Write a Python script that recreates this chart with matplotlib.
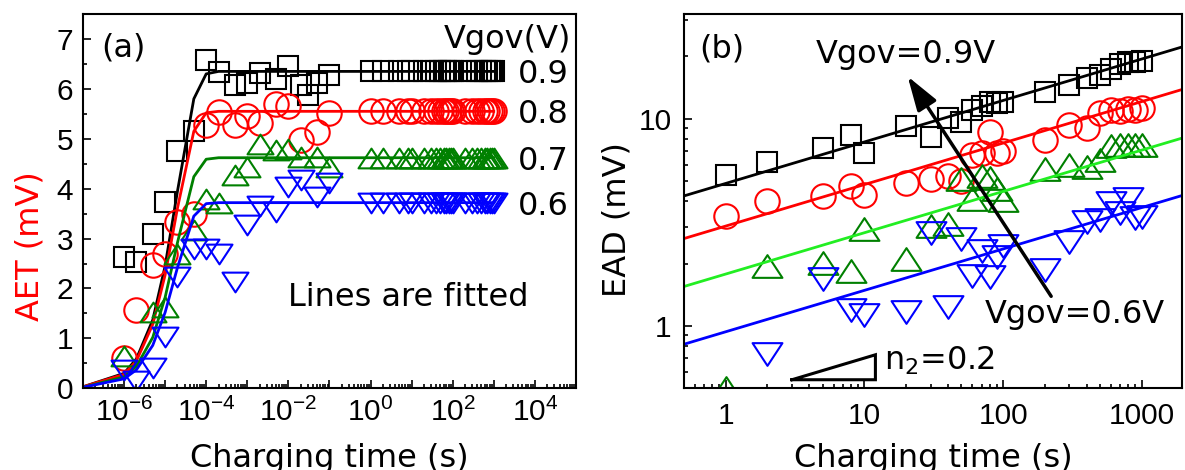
import numpy as np
import matplotlib
matplotlib.use("Agg")
import matplotlib.pyplot as plt
from matplotlib.path import Path
from matplotlib.ticker import (LogLocator, FuncFormatter, MultipleLocator,
                               NullFormatter)

plt.rcParams["font.family"] = ["DejaVu Sans"]
plt.rcParams["axes.linewidth"] = 1.5

nan = np.nan

# ---------------- panel (a): AET vs charging time ----------------
vgov_labels = ["0.9", "0.8", "0.7", "0.6"]

t_a = [1e-6, 2e-6, 5e-6, 1e-5, 2e-5, 5e-5, 1e-4, 2e-4, 5e-4, 1e-3, 2e-3,
       5e-3, 1e-2, 2e-2, 3e-2, 5e-2, 1e-1]
aet_09 = [2.64, 2.54, 3.10, 3.74, 4.75, 5.15, 6.58, 6.34, 6.08, 6.11, 6.32,
          6.20, 6.46, 6.08, 5.88, 6.12, 6.28]
aet_08 = [0.60, 1.57, 2.48, 2.70, 3.34, 3.50, 5.28, 5.54, 5.28, 5.45, 5.31,
          5.70, 5.65, 4.98, nan, 5.14, 5.51]
aet_07 = [0.65, nan, 1.52, 1.62, 2.70, 3.18, 3.80, 3.71, 4.28, 4.44, 4.90,
          4.78, 4.80, 4.64, nan, 4.64, 4.44]
aet_06 = [0.37, 0.15, 0.40, 1.02, 2.24, 2.80, 2.80, 2.70, 2.14, 3.27, 3.65,
          3.54, 4.04, 4.18, nan, 3.84, 4.11]

# long-time points sit on the saturation level of each series
t_sat = [1, 2, 5, 8, 10, 20, 30, 40, 50, 60, 70, 80, 90, 100, 200, 300, 400,
         500, 600, 700, 800, 900, 1000]
aet_sat = [6.35, 5.55, 4.62, 3.72]

# fitted curves
t_fit_a = [1e-7, 1e-6, 2e-6, 5e-6, 1e-5, 2e-5, 5e-5, 1e-4, 2e-4, 1e3]
fit_09 = [0.03, 0.30, 0.59, 1.37, 2.45, 3.95, 5.80, 6.30, 6.35, 6.35]
fit_08 = [0.03, 0.28, 0.55, 1.28, 2.27, 3.61, 5.15, 5.52, 5.55, 5.55]
fit_07 = [0.02, 0.23, 0.44, 1.02, 1.82, 2.92, 4.24, 4.59, 4.62, 4.62]
fit_06 = [0.02, 0.19, 0.37, 0.86, 1.52, 2.42, 3.45, 3.70, 3.72, 3.72]

# ---------------- panel (b): EAD vs charging time ----------------
t_b = [1, 2, 5, 8, 10, 20, 30, 40, 50, 60, 70, 80, 90, 100, 200, 300, 400,
       500, 600, 700, 800, 900, 1000]
ead_09 = [5.35, 6.2, 7.2, 8.3, 6.85, 9.2, 8.2, 10.1, 9.6, 11.0, 11.5, 12.1,
          11.9, 12.0, 13.4, 14.6, 15.8, 16.2, 17.3, 18.3, 18.8, 18.8, 18.9]
ead_08 = [3.39, 4.0, 4.24, 4.76, 4.28, 4.9, 5.1, 5.28, 5.0, 6.7, 6.85, 8.6,
          6.8, 7.0, 7.9, 9.3, 9.05, 10.6, 11.0, 10.9, 11.1, 11.0, 11.3]
ead_07 = [0.5, 1.95, 2.02, 1.84, 2.92, 2.1, 3.05, 3.1, 5.09, 4.1, 5.3, 5.2,
          4.6, 4.06, 5.7, 5.95, 5.85, 6.3, 7.4, 7.5, 7.5, 7.5, 7.5]
ead_06 = [nan, 0.73, 1.68, 1.2, 1.13, 1.17, 2.82, 1.23, 2.62, 1.74, 2.3, 1.73,
          2.14, 2.42, 1.87, 2.54, 3.17, 3.24, 3.94, 3.49, 4.11, 3.3, 3.35]

# power-law fits (end points)
t_fit_b = [0.5, 2000]
line_09 = [4.24, 22.3]
line_08 = [2.64, 13.9]
line_07 = [1.55, 8.1]
line_06 = [0.816, 4.28]

# slope guide
n2 = 0.2
guide_t = [3, 12]
guide_base = 0.55

# ---------------- styling ----------------
tri_up = Path([(-1, -0.76), (1, -0.76), (0, 0.76), (-1, -0.76)], closed=True)
tri_dn = Path([(-1, 0.76), (1, 0.76), (0, -0.76), (-1, 0.76)], closed=True)

colors = ["#000000", "#ff0000", "#008000", "#0000ff"]
line_colors_b = ["#000000", "#ff0000", "#22ee22", "#0000ff"]
markers = ["s", "o", tri_up, tri_dn]
ms_a = [14.8, 17.6, 18.7, 18.7]
ms_b = [14.8, 17.6, 21.5, 21.5]
MEW = 1.5
LW = 2.0
LABEL_FS = 23
TICK_FS = 21.5
TICK_FONT = "Liberation Sans"

fig = plt.figure(figsize=(11.85, 4.70), dpi=100)
ax_a = fig.add_axes([0.0700, 0.1738, 0.4160, 0.7964])
ax_b = fig.add_axes([0.5772, 0.1738, 0.4203, 0.7964])

# ---- panel (a) ----
series_a = [aet_09, aet_08, aet_07, aet_06]
fits_a = [fit_09, fit_08, fit_07, fit_06]
for vals, sat, fit, c, m, ms in zip(series_a, aet_sat, fits_a, colors,
                                    markers, ms_a):
    ax_a.plot(t_a, vals, linestyle="none", marker=m, ms=ms, mfc="none",
              mec=c, mew=MEW)
    ax_a.plot(t_sat, np.full(len(t_sat), sat), linestyle="none", marker=m,
              ms=ms, mfc="none", mec=c, mew=MEW)
    ax_a.plot(t_fit_a, fit, color=c, lw=LW)

ax_a.set_xscale("log")
ax_a.set_xlim(1e-7, 1e5)
ax_a.set_ylim(0, 7.5)
ax_a.xaxis.set_major_locator(LogLocator(base=10, numticks=30))
ax_a.xaxis.set_minor_locator(LogLocator(base=10, subs=np.arange(2, 10),
                                        numticks=30))
ax_a.xaxis.set_minor_formatter(NullFormatter())


def even_decades(x, pos):
    e = int(round(np.log10(x)))
    return r"$\mathregular{10^{%d}}$" % e if e % 2 == 0 else ""


ax_a.xaxis.set_major_formatter(FuncFormatter(even_decades))
ax_a.yaxis.set_major_locator(MultipleLocator(1))
ax_a.yaxis.set_minor_locator(MultipleLocator(0.5))

ax_a.set_xlabel("Charging time (s)", fontsize=LABEL_FS, va="top")
ax_a.set_ylabel("AET (mV)", fontsize=LABEL_FS, color="#ff0000")
ax_a.xaxis.set_label_coords(0.5, -0.145)
ax_a.yaxis.set_label_coords(-0.075, 0.38)

ax_a.text(0.083, 0.909, "(a)", transform=ax_a.transAxes, fontsize=LABEL_FS,
          ha="center", va="center")
ax_a.text(0.991, 0.933, "Vgov(V)", transform=ax_a.transAxes,
          fontsize=LABEL_FS, ha="right", va="center")
for lab, sat in zip(vgov_labels, aet_sat):
    ax_a.text(3.9e3, sat, lab, fontsize=LABEL_FS, ha="left",
              va="center_baseline")
ax_a.text(0.659, 0.22, "Lines are fitted", transform=ax_a.transAxes,
          fontsize=LABEL_FS, ha="center", va="baseline")

# ---- panel (b) ----
series_b = [ead_09, ead_08, ead_07, ead_06]
lines_b = [line_09, line_08, line_07, line_06]
for vals, ln, c, lc, m, ms in zip(series_b, lines_b, colors, line_colors_b,
                                  markers, ms_b):
    ax_b.plot(t_b, vals, linestyle="none", marker=m, ms=ms, mfc="none",
              mec=c, mew=MEW)
    ax_b.plot(t_fit_b, ln, color=lc, lw=LW)

ax_b.set_xscale("log")
ax_b.set_yscale("log")
ax_b.set_xlim(0.5, 1950)
ax_b.set_ylim(0.5, 32)
for axis in (ax_b.xaxis, ax_b.yaxis):
    axis.set_major_locator(LogLocator(base=10, numticks=20))
    axis.set_minor_locator(LogLocator(base=10, subs=np.arange(2, 10),
                                      numticks=20))
    axis.set_minor_formatter(NullFormatter())
    axis.set_major_formatter(FuncFormatter(lambda x, p: "%g" % x))

ax_b.set_xlabel("Charging time (s)", fontsize=LABEL_FS, va="top")
ax_b.set_ylabel("EAD (mV)", fontsize=LABEL_FS)
ax_b.xaxis.set_label_coords(0.5, -0.145)
ax_b.yaxis.set_label_coords(-0.104, 0.45)

ax_b.text(0.076, 0.906, "(b)", transform=ax_b.transAxes, fontsize=LABEL_FS,
          ha="center", va="center")
ax_b.text(0.265, 0.868, "Vgov=0.9V", transform=ax_b.transAxes,
          fontsize=LABEL_FS, ha="left", va="baseline")
ax_b.text(0.604, 0.174, "Vgov=0.6V", transform=ax_b.transAxes,
          fontsize=LABEL_FS, ha="left", va="baseline")
ax_b.annotate("", xy=(20.5, 16.0), xytext=(222, 1.39),
              arrowprops=dict(arrowstyle="-|>,head_length=1.4,head_width=0.45",
                              mutation_scale=15, lw=2.5, color="black",
                              shrinkA=0, shrinkB=0))

guide_top = guide_base * (guide_t[1] / guide_t[0]) ** n2
ax_b.plot([guide_t[0], guide_t[1], guide_t[1], guide_t[0]],
          [guide_base, guide_base, guide_top, guide_base],
          color="black", lw=2.2, solid_joinstyle="miter")
ax_b.text(0.402, 0.049, r"n$_{2}$=0.2", transform=ax_b.transAxes,
          fontsize=LABEL_FS, ha="left", va="baseline")

for ax, xpad in ((ax_a, 7), (ax_b, 10)):
    ax.tick_params(which="both", direction="in", top=False, right=False,
                   width=1.2, labelsize=TICK_FS, labelfontfamily=TICK_FONT)
    ax.tick_params(which="major", length=5.5)
    ax.tick_params(which="minor", length=3.2)
    ax.tick_params(axis="x", which="major", pad=xpad)
    ax.tick_params(axis="y", which="major", pad=7 if ax is ax_a else 9)

fig.savefig("out.png", dpi=100)
